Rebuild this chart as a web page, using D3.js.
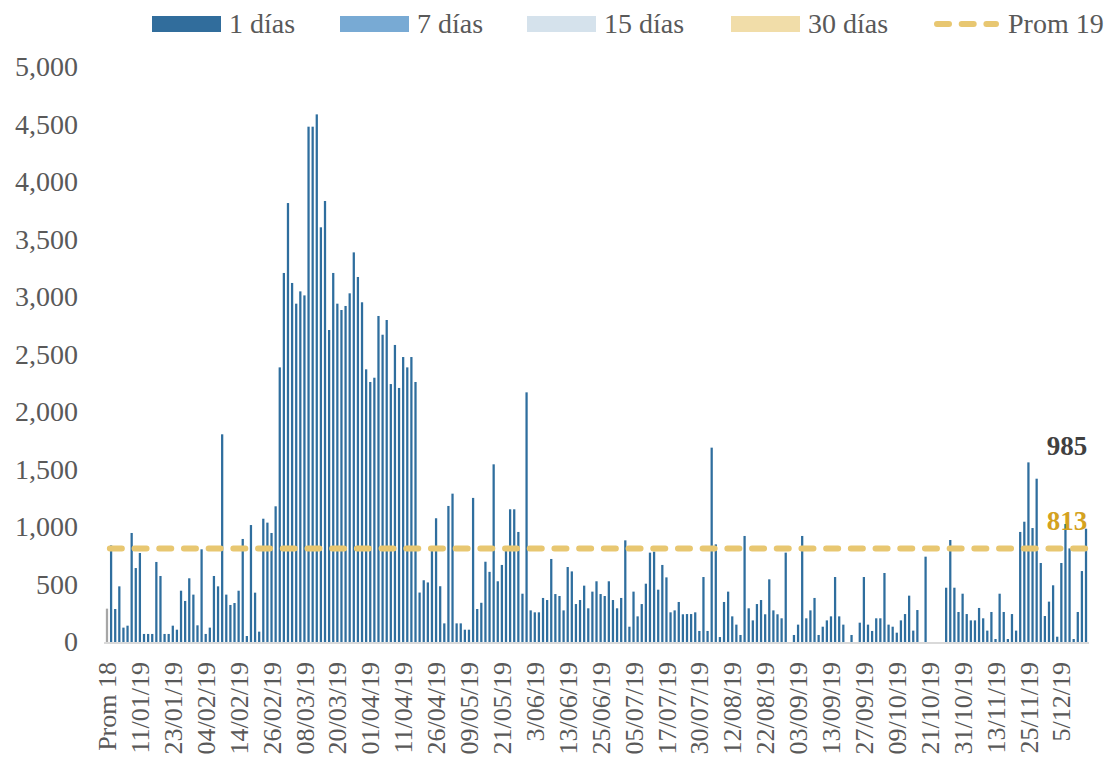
<!DOCTYPE html>
<html>
<head>
<meta charset="utf-8">
<script src="https://cdn.jsdelivr.net/npm/d3@7"></script>
<style>
  body { margin: 0; background: #fff; }
  svg { display: block; font-family: 'Liberation Serif', 'DejaVu Serif', serif; }
</style>
</head>
<body>
<div id="chart"></div>
<script>
// values (one bar per business day, 2019)
const prom18 = 290;
const prom19 = 813;
const lastValue = 985;
const dayValues = [
  840, 287, 484, 125, 142, 948, 643, 774, 70, 70, 70, 696, 574, 70, 70, 142,
  107, 446, 357, 554, 412, 145, 806, 70, 125, 574, 484, 1806, 412, 322, 339, 446,
  896, 52, 1017, 429, 90, 1072, 1038, 948, 1180, 2388, 3209, 3817, 3122, 2942, 3049, 3014,
  4481, 4481, 4588, 3606, 3835, 2713, 3209, 2942, 2887, 2922, 3032, 3388, 3174, 2954, 2371, 2261,
  2298, 2835, 2672, 2800, 2243, 2583, 2209, 2478, 2388, 2478, 2261, 430, 537, 518, 823, 1076,
  485, 162, 1183, 1290, 162, 162, 107, 107, 1253, 287, 341, 698, 610, 1545, 528, 670,
  832, 1154, 1154, 957, 420, 2171, 275, 258, 258, 383, 365, 722, 417, 400, 275, 652,
  614, 330, 365, 490, 293, 438, 528, 417, 400, 528, 365, 293, 383, 884, 133, 438,
  223, 330, 507, 777, 786, 455, 670, 562, 258, 275, 348, 241, 243, 243, 258, 96,
  565, 96, 1690, 849, 43, 348, 438, 223, 151, 61, 922, 293, 188, 330, 365, 241,
  545, 275, 241, 206, 777, 0, 61, 151, 922, 206, 275, 383, 61, 133, 188, 223,
  565, 223, 151, 0, 61, 0, 168, 565, 151, 96, 206, 206, 600, 151, 133, 81,
  188, 243, 403, 99, 278, 0, 742, 0, 0, 0, 0, 472, 887, 472, 261, 420,
  243, 188, 188, 296, 206, 99, 261, 26, 420, 261, 26, 243, 99, 957, 1046, 1562,
  991, 1420, 687, 226, 351, 493, 46, 687, 1026, 814, 26, 261, 617, lastValue
];
const tickLabels = [
  'Prom 18', '11/01/19', '23/01/19', '04/02/19', '14/02/19', '26/02/19', '08/03/19',
  '20/03/19', '01/04/19', '11/04/19', '26/04/19', '09/05/19', '21/05/19', '3/06/19',
  '13/06/19', '25/06/19', '05/07/19', '17/07/19', '30/07/19', '12/08/19', '22/08/19',
  '03/09/19', '13/09/19', '27/09/19', '09/10/19', '21/10/19', '31/10/19', '13/11/19',
  '25/11/19', '5/12/19'
];
const labelEvery = 8;
const yTicks = [0, 500, 1000, 1500, 2000, 2500, 3000, 3500, 4000, 4500, 5000];
const seriesNames = ['1 días', '7 días', '15 días', '30 días'];
const seriesColors = ['#316d9c', '#78aad4', '#d5e2ec', '#f1dda9'];
const avgName = 'Prom 19';

const width = 1116;
const height = 766;
const margin = { top: 67, right: 27, bottom: 124, left: 104 };
const textColor = '#595959';
const avgColor = '#e8c771';

const values = [prom18].concat(dayValues);
const idx = d3.range(values.length);

const svg = d3.select('#chart')
  .append('svg')
  .attr('width', width)
  .attr('height', height);

const x = d3.scaleBand()
  .domain(idx)
  .range([margin.left, width - margin.right])
  .padding(0.45);

const y = d3.scaleLinear()
  .domain([0, 5000])
  .range([height - margin.bottom, margin.top]);

// y axis
const yAxis = d3.axisLeft(y)
  .tickValues(yTicks)
  .tickFormat(d3.format(','))
  .tickSize(0)
  .tickPadding(26);
svg.append('g')
  .attr('class', 'y-axis')
  .attr('transform', `translate(${margin.left}, 0)`)
  .call(yAxis);
svg.select('.y-axis').select('.domain').remove();
svg.select('.y-axis').selectAll('text')
  .attr('font-size', 28)
  .attr('font-family', 'Liberation Serif')
  .attr('fill', textColor);

// bars
svg.append('g')
  .attr('class', 'bars')
  .selectAll('rect')
  .data(values)
  .join('rect')
  .attr('x', (d, i) => x(i))
  .attr('y', d => y(d))
  .attr('width', x.bandwidth())
  .attr('height', d => y(0) - y(d))
  .attr('fill', (d, i) => i === 0 ? '#a6a6a6' : '#2f6e9e');

// baseline
svg.append('line')
  .attr('x1', margin.left)
  .attr('x2', width - margin.right)
  .attr('y1', y(0) + 1)
  .attr('y2', y(0) + 1)
  .attr('stroke', '#d9d9d9')
  .attr('stroke-width', 2);

// x axis labels
const xAxis = d3.axisBottom(x)
  .tickValues(idx.filter(i => i % labelEvery === 0 && i / labelEvery < tickLabels.length))
  .tickFormat(i => tickLabels[i / labelEvery])
  .tickSize(0)
  .tickPadding(0);
svg.append('g')
  .attr('class', 'x-axis')
  .attr('transform', `translate(0, ${y(0)})`)
  .call(xAxis);
svg.select('.x-axis').select('.domain').remove();
svg.select('.x-axis').selectAll('text')
  .attr('font-size', 26)
  .attr('font-family', 'Liberation Serif')
  .attr('fill', textColor)
  .attr('text-anchor', 'end')
  .attr('transform', 'rotate(-90)')
  .attr('x', -20)
  .attr('y', 0)
  .attr('dy', '0.35em');

// average line
svg.append('line')
  .attr('x1', x(0) + 4)
  .attr('x2', x(values.length - 1) + x.bandwidth())
  .attr('y1', y(prom19))
  .attr('y2', y(prom19))
  .attr('stroke', avgColor)
  .attr('stroke-width', 6)
  .attr('stroke-linecap', 'round')
  .attr('stroke-dasharray', '12 12.7');

// end labels
const lastX = x(values.length - 1) + x.bandwidth();
svg.append('text')
  .attr('x', lastX)
  .attr('y', y(lastValue) - 74)
  .attr('text-anchor', 'end')
  .attr('font-size', 27)
  .attr('font-weight', 700)
  .attr('fill', '#404040')
  .text(d3.format(',')(lastValue));
svg.append('text')
  .attr('x', lastX)
  .attr('y', y(prom19) - 19)
  .attr('text-anchor', 'end')
  .attr('font-size', 27)
  .attr('font-weight', 700)
  .attr('fill', '#d4a21f')
  .text(d3.format(',')(prom19));

// legend
const legendX = [152, 340, 527, 731];
const legend = svg.append('g').attr('class', 'legend');
seriesNames.forEach((name, i) => {
  legend.append('rect')
    .attr('x', legendX[i])
    .attr('y', 16)
    .attr('width', 69)
    .attr('height', 16)
    .attr('fill', seriesColors[i]);
  legend.append('text')
    .attr('x', legendX[i] + 77)
    .attr('y', 33)
    .attr('font-size', 28)
    .attr('fill', textColor)
    .text(name);
});
legend.append('line')
  .attr('x1', 937)
  .attr('x2', 996)
  .attr('y1', 24)
  .attr('y2', 24)
  .attr('stroke', avgColor)
  .attr('stroke-width', 6)
  .attr('stroke-linecap', 'round')
  .attr('stroke-dasharray', '12 12.7');
legend.append('text')
  .attr('x', 1008)
  .attr('y', 33)
  .attr('font-size', 28)
  .attr('fill', textColor)
  .text(avgName);
</script>
</body>
</html>
